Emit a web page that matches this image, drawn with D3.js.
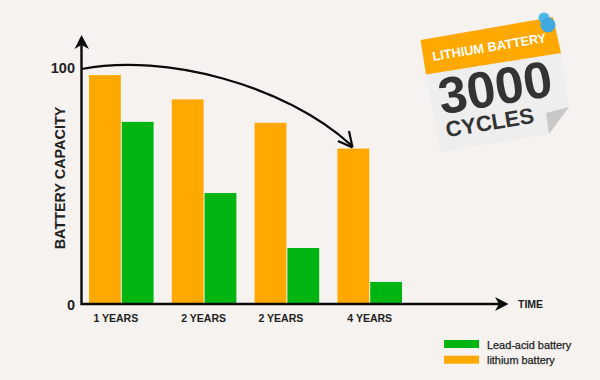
<!DOCTYPE html>
<html><head><meta charset="utf-8">
<script src="https://cdn.jsdelivr.net/npm/d3@7"></script>
<style>html,body{margin:0;padding:0;background:#f5f2ef}svg{display:block}text{font-family:"Liberation Sans",Arial,sans-serif}</style>
</head><body><svg id="c" width="600" height="380"></svg>
<script>
const groups = ["g1","g2","g3","g4"];
const tickLabels = ["1 YEARS","2 YEARS","2 YEARS","4 YEARS"];
const lithium = [97.4,87,77,66];
const leadAcid = [77.4,47,23.5,9];
const seriesNames = ["Lead-acid battery","lithium battery"];
const ORANGE="#ffa800", GREEN="#00b511", INK="#0a0a0a";
const labelNudge=[-5.5,-0.5,-6,0];

const svg=d3.select("#c");
svg.append("rect").attr("width",600).attr("height",380).attr("fill","#f5f2ef");
const x=d3.scaleBand().domain(groups).range([89,402]).paddingInner(.22).paddingOuter(0);
const y=d3.scaleLinear().domain([0,100]).range([303,69]);
const sub=d3.scaleBand().domain(["li","pb"]).range([0,x.bandwidth()]).paddingInner(.03);

const bars=(vals,key,col)=>svg.append("g").selectAll("rect").data(vals).join("rect")
  .attr("x",(d,i)=>x(groups[i])+sub(key)).attr("width",sub.bandwidth())
  .attr("y",d=>y(d)).attr("height",d=>y(0)-y(d)).attr("fill",col);
bars(lithium,"li",ORANGE); bars(leadAcid,"pb",GREEN);

// axes
const xa=svg.append("g").attr("transform",`translate(0,${y(0)+11})`)
  .call(d3.axisBottom(x).tickSize(0).tickFormat((d,i)=>tickLabels[i]));
xa.select(".domain").remove();
xa.selectAll("text").attr("font-size",10.5).attr("font-weight","bold").attr("fill","#222")
  .attr("font-family","'Liberation Sans'").attr("dy","0.45em").attr("dx",(d,i)=>labelNudge[i]);
const ya=svg.append("g").attr("transform","translate(76,0)")
  .call(d3.axisLeft(y).tickValues([0,100]).tickSize(0));
ya.select(".domain").remove();
ya.selectAll("text").attr("font-size",14.5).attr("font-weight","bold").attr("fill","#222")
  .attr("font-family","'Liberation Sans'").attr("x",-1).attr("dy","0.25em");
ya.selectAll(".tick").filter(d=>d===0).attr("transform",`translate(0,${y(0)+3})`);

svg.append("path").attr("d","M81.5,44V304H501").attr("fill","none").attr("stroke",INK).attr("stroke-width",2.4);
svg.append("path").attr("d","M81.5,35L89,49L81.5,45L74.5,49Z").attr("fill",INK);
svg.append("path").attr("d","M508.5,304L495,297L499,304L495,311Z").attr("fill",INK);

// curve
svg.append("path").attr("d","M82,69C165,53 285,85 351,145").attr("fill","none").attr("stroke",INK).attr("stroke-width",2.2);
svg.append("path").attr("d","M352.5,147.5L349,131M352.5,147.5L338,141").attr("fill","none").attr("stroke",INK).attr("stroke-width",2.2);

svg.append("text").attr("transform","translate(65,178) rotate(-90)").attr("text-anchor","middle")
  .attr("font-size",14.4).attr("font-weight","bold").attr("fill","#222").text("BATTERY CAPACITY");
svg.append("text").attr("x",518).attr("y",308).attr("font-size",10.5).attr("font-weight","bold").attr("fill","#222").text("TIME");

// legend
const leg=svg.append("g").selectAll("g").data(seriesNames).join("g").attr("transform",(d,i)=>`translate(444,${340+i*15.7})`);
leg.append("rect").attr("width",35).attr("height",8).attr("fill",(d,i)=>i?ORANGE:GREEN);
leg.append("text").attr("x",43).attr("y",8.5).attr("font-size",10.9).attr("fill","#222").attr("stroke","#222").attr("stroke-width",.25).text(d=>d);

// sticker
const s=svg.append("g");
s.append("path").attr("d","M426,72L561,52L569,107L549,134L440,152Z").attr("fill","#eeeeee");
s.append("path").attr("d","M546,113L569,107L549,134Z").attr("fill","#c8c8c8");
s.append("path").attr("d","M420.5,40L553,17L561,53L426,74.5Z").attr("fill",ORANGE);
s.append("circle").attr("cx",544).attr("cy",18).attr("r",5.5).attr("fill","#4cb8e8");
s.append("circle").attr("cx",548).attr("cy",25).attr("r",7.5).attr("fill","#3fa9e0");
const rot=(cx,cy,size,t,fill)=>s.append("text").attr("transform",`translate(${cx},${cy}) rotate(-9.5)`)
  .attr("text-anchor","middle").attr("font-size",size).attr("font-weight","bold").attr("fill",fill).text(t);
rot(490,51.5,12.9,"LITHIUM BATTERY","#fff");
rot(498,105,51.5,"3000","#333");
rot(491,130,22,"CYCLES","#333");
</script></body></html>
